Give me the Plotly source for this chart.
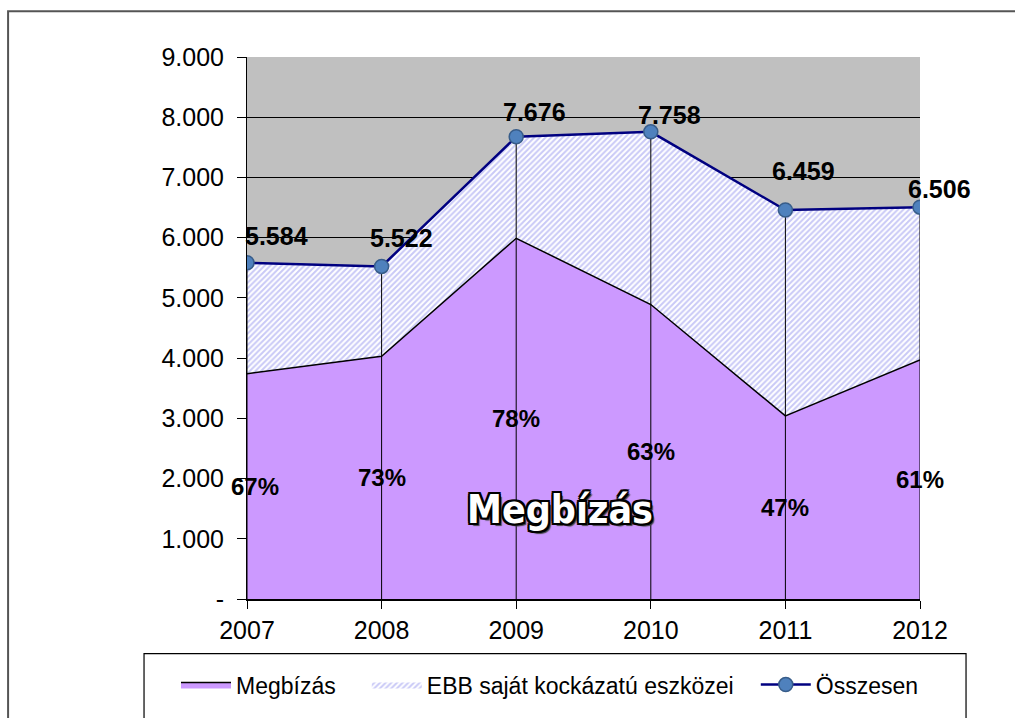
import plotly.graph_objects as go

years = [2007, 2008, 2009, 2010, 2011, 2012]
megbizas = [3740, 4030, 5990, 4890, 3040, 3970]
ebb = [1844, 1492, 1686, 2868, 3419, 2536]
total = [5584, 5522, 7676, 7758, 6459, 6506]
total_labels = ["5.584", "5.522", "7.676", "7.758", "6.459", "6.506"]
pct_labels = ["67%", "73%", "78%", "63%", "47%", "61%"]
y_tickvals = [0, 1000, 2000, 3000, 4000, 5000, 6000, 7000, 8000, 9000]
y_ticktext = ["-", "1.000", "2.000", "3.000", "4.000", "5.000", "6.000", "7.000", "8.000", "9.000"]

# label placement (pixels) for the total data labels
label_dx = [-4, -14, -15, -15, -15, -14]
label_dy = [17, 18, 15, 7, 29, 8]

FONT = "Liberation Sans, Arial, sans-serif"

fig = go.Figure()

fig.add_trace(go.Scatter(
    x=years, y=megbizas, name="Megbízás", stackgroup="one",
    mode="lines", line=dict(color="black", width=1.5),
    fillcolor="#CC99FF", legend="legend",
))
fig.add_trace(go.Scatter(
    x=years, y=ebb, name="EBB saját kockázatú eszközei", stackgroup="one",
    mode="lines", line=dict(color="black", width=0),
    fillcolor="white",
    fillpattern=dict(shape="/", fgcolor="#9494EE", bgcolor="white", size=4, solidity=0.5),
    legend="legend2",
))

# drop lines
dx, dy = [], []
for xv, tv in zip(years, total):
    dx += [xv, xv, None]
    dy += [0, tv, None]
fig.add_trace(go.Scatter(x=dx, y=dy, mode="lines", line=dict(color="black", width=1),
                         showlegend=False, hoverinfo="skip"))

fig.add_trace(go.Scatter(
    x=years, y=total, name="Összesen", mode="lines+markers",
    line=dict(color="#000080", width=2.5),
    marker=dict(symbol="circle", size=14, color="#4F81BD", line=dict(color="#385D8A", width=1.5)),
    legend="legend3",
))

for i, (xv, tv, lab) in enumerate(zip(years, total, total_labels)):
    fig.add_annotation(x=xv, y=tv, text=lab, showarrow=False, xanchor="left", yanchor="bottom",
                       xshift=label_dx[i], yshift=label_dy[i] - 6,
                       font=dict(family=FONT, size=25, color="black", weight="bold"))

for i, (xv, mv, lab) in enumerate(zip(years, megbizas, pct_labels)):
    fig.add_annotation(x=xv, y=mv / 2, text=lab, showarrow=False, xanchor="center", yanchor="middle",
                       xshift=8 if i == 0 else 0,
                       font=dict(family=FONT, size=24, color="black", weight="bold"))

fig.add_annotation(xref="paper", yref="paper", x=0.465, y=0.165, text="Megbízás", showarrow=False,
                   xanchor="center", yanchor="middle",
                   font=dict(family="Liberation Sans Narrow, DejaVu Sans Condensed, Arial Narrow, sans-serif",
                             size=39, color="white", weight="bold",
                             shadow="-2px -2px 0 #000, 2px -2px 0 #000, -2px 2px 0 #000, 2px 2px 0 #000, 0 2px 0 #000, 0 -2px 0 #000, 2px 0 0 #000, -2px 0 0 #000, 3px 3px 1px #444"))

# outer chart border and legend box
fig.add_shape(type="rect", xref="paper", yref="paper", x0=-0.355, x1=1.3, y0=-0.4, y1=1.0844,
              line=dict(color="#555555", width=2), fillcolor="rgba(0,0,0,0)", layer="below")
fig.add_shape(type="rect", xref="paper", yref="paper", x0=-0.153, x1=1.0684, y0=-0.3, y1=-0.1009,
              line=dict(color="black", width=1.2), fillcolor="rgba(0,0,0,0)")

leg_common = dict(orientation="h", yanchor="middle", y=-0.158, xanchor="left",
                  font=dict(family=FONT, size=23, color="black"), bgcolor="rgba(0,0,0,0)",
                  itemwidth=50, borderwidth=0)

fig.update_layout(
    width=1015, height=718,
    margin=dict(l=247, r=95, t=57, b=116),
    paper_bgcolor="white", plot_bgcolor="#C0C0C0",
    font=dict(family=FONT, size=25, color="black"),
    showlegend=True,
    legend=dict(leg_common, x=-0.1055),
    legend2=dict(leg_common, x=0.178),
    legend3=dict(leg_common, x=0.756),
    xaxis=dict(range=[2007, 2012], tickvals=years, ticktext=[str(y) for y in years],
               showgrid=False, zeroline=False, showline=True, linecolor="black", linewidth=2,
               ticks="outside", ticklen=8, tickcolor="black", tickfont=dict(size=25)),
    yaxis=dict(range=[0, 9000], tickvals=y_tickvals, ticktext=y_ticktext,
               showgrid=True, gridcolor="black", gridwidth=1, zeroline=False,
               showline=True, linecolor="black", linewidth=1,
               ticks="outside", ticklen=9, tickcolor="black", tickfont=dict(size=25),
               ticklabelstandoff=8),
)

fig.write_html("out.html", config={"displayModeBar": False},
               post_script="document.body.style.margin='0';document.body.style.overflow='hidden';")
